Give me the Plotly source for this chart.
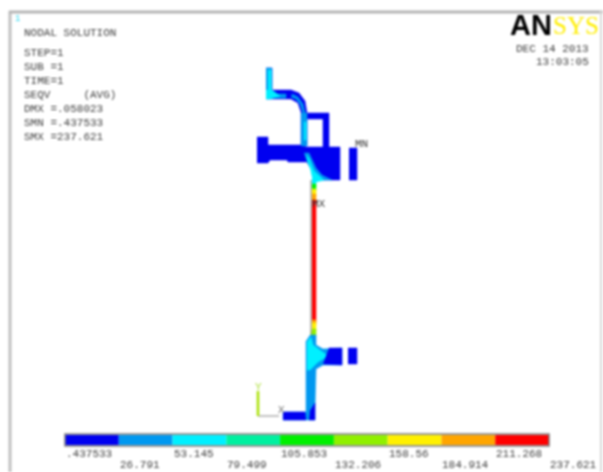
import plotly.graph_objects as go

# Contour band limits and colours
levels = [0.437533, 26.791, 53.145, 79.499, 105.853, 132.206, 158.56, 184.914, 211.268, 237.621]
level_labels = [".437533", "26.791", "53.145", "79.499", "105.853", "132.206", "158.56", "184.914", "211.268", "237.621"]
band_colors = ["#0000f0", "#0098f0", "#00f0ff", "#00f0a0", "#00f000", "#90f000", "#fff000", "#ffa500", "#ff0000"]

# Info block
info_lines = ["NODAL SOLUTION", "STEP=1", "SUB =1", "TIME=1", "SEQV     (AVG)", "DMX =.058023", "SMN =.437533", "SMX =237.621"]
info_rows = [33, 53, 67, 81, 95, 109, 123, 137]
date_lines = ["DEC 14 2013", "13:03:05"]

# Section outline of the model, by contour band (model x, model y)
hook = [(266, 68), (272, 68), (272, 90), (291, 90), (299, 93), (305, 101), (307, 113), (329, 113), (329, 147),
        (323, 147), (323, 119), (307, 119), (307, 146), (301, 146), (301, 112), (298, 103), (291, 99), (266, 99)]
flange = [(257, 137), (268, 137), (268, 145), (305, 145), (305, 147), (340, 147), (340, 180), (316, 180),
          (313, 172), (307, 162), (288, 162), (287, 160), (270, 160), (268, 163), (257, 163)]
side_bar = [(349, 148), (357, 148), (357, 180), (349, 180)]
hook_light = [(301, 113), (307, 113), (307, 146), (301, 146)]
hook_column_core = [(304, 122), (306, 122), (306, 140), (304, 140)]
hook_curve = [(292, 94), (298, 97), (303, 104), (305, 113), (303, 113), (300, 104), (296, 99), (291, 97)]
hook_run = [(272, 94), (286, 94), (286, 98), (272, 98)]
hook_corner = [(266, 90), (272, 90), (280, 96), (270, 99), (266, 99)]
hook_tip = [(266, 68), (272, 68), (272, 90), (266, 90)]
hook_tip_core = [(268, 70), (271, 70), (271, 92), (268, 92)]
neck_light = [(304, 153), (309, 153), (316, 168), (322, 175), (332, 180), (316, 180), (313, 172), (307, 162)]
neck_cyan = [(306, 155), (309, 158), (314, 171), (320, 177), (324, 180), (316, 182), (313, 180), (311, 172)]
web_cyan = [(312, 178), (316, 178), (316, 186), (312, 186)]
web_green = [(312, 184), (316, 184), (316, 191), (312, 191)]
web_yellow = [(312, 189), (316, 189), (316, 196), (312, 196)]
web_orange = [(312, 194), (316, 194), (316, 202), (312, 202)]
web_red = [(312, 200), (316, 200), (316, 322), (312, 322)]
web_low_orange = [(312, 320), (316, 320), (316, 325), (312, 325)]
web_low_yellow = [(312, 323), (316, 323), (316, 331), (312, 331)]
web_low_lime = [(312, 329), (316, 329), (316, 336), (310, 336)]
web_edge = [(311, 180), (311, 334)]
lower_body = [(310, 335), (316, 335), (316, 345), (323, 349), (342, 348), (342, 365), (323, 365), (316, 369),
              (315, 407), (315, 420), (283, 420), (283, 412), (306, 412), (306, 341)]
lower_cyan = [(307, 342), (311, 337), (313, 345), (322, 352), (328, 356), (318, 362), (310, 370), (307, 370)]
lower_arm_blue = [(329, 348), (342, 348), (342, 365), (323, 364)]
foot_blue = [(283, 412), (305, 412), (306, 420), (283, 420)]
foot_corner = [(310, 411), (315, 403), (315, 420), (309, 420)]
lower_block = [(348, 348), (357, 348), (357, 364), (348, 364)]

mesh = [
    (flange, 0), (side_bar, 0), (hook, 0), (hook_light, 1), (hook_column_core, 2), (hook_curve, 1), (hook_run, 1),
    (hook_tip, 1), (hook_tip_core, 2), (hook_corner, 2),
    (neck_light, 1), (neck_cyan, 2), (web_cyan, 2), (web_green, 4), (web_yellow, 6), (web_orange, 7),
    (web_red, 8), (web_low_orange, 7), (web_low_yellow, 6), (web_low_lime, 5),
    (lower_body, 1), (lower_cyan, 2), (lower_arm_blue, 0), (foot_blue, 0), (foot_corner, 0), (lower_block, 0),
]

# Global triad
triad_y_axis = [(258, 416), (258, 391)]
triad_x_axis = [(258, 416), (279, 416)]

W, H = 603, 472
FONT = "Liberation Mono"
TXT = "#404040"

fig = go.Figure()

for pts, band in mesh:
    fig.add_trace(go.Scatter(
        x=[p[0] for p in pts], y=[p[1] for p in pts], mode="lines", fill="toself",
        fillcolor=band_colors[band], line=dict(color=band_colors[band], width=0.5),
        hoverinfo="skip", showlegend=False))

fig.add_trace(go.Scatter(x=[p[0] for p in web_edge], y=[p[1] for p in web_edge], mode="lines",
                         line=dict(color="#8a8a8a", width=1.2), showlegend=False, hoverinfo="skip"))
fig.add_trace(go.Scatter(x=[p[0] for p in triad_x_axis], y=[p[1] for p in triad_x_axis], mode="lines",
                         line=dict(color="#9a9a9a", width=1.2), showlegend=False, hoverinfo="skip"))
fig.add_trace(go.Scatter(x=[p[0] for p in triad_y_axis], y=[p[1] for p in triad_y_axis], mode="lines",
                         line=dict(color="#a8e000", width=2.5), showlegend=False, hoverinfo="skip"))

# Contour legend drawn on its own value axis
fig.add_trace(go.Bar(
    y=[0] * len(band_colors), x=[levels[i + 1] - levels[i] for i in range(len(band_colors))],
    base=levels[:-1], orientation="h", width=1,
    marker=dict(color=band_colors, line=dict(width=0)),
    xaxis="x2", yaxis="y2", hoverinfo="skip", showlegend=False))

fig.update_layout(
    width=W, height=H, margin=dict(l=0, r=0, t=0, b=0),
    paper_bgcolor="white", plot_bgcolor="white", barmode="overlay",
    xaxis=dict(range=[0, W], visible=False, domain=[0, 1], fixedrange=True),
    yaxis=dict(range=[H, 0], visible=False, domain=[0, 1], fixedrange=True),
    xaxis2=dict(range=[levels[0], levels[-1]], visible=False, domain=[65 / W, 549 / W],
                anchor="y2", fixedrange=True),
    yaxis2=dict(range=[-0.5, 0.5], visible=False, domain=[1 - 445 / H, 1 - 435 / H],
                anchor="x2", fixedrange=True),
    shapes=[
        dict(type="rect", xref="paper", yref="paper", x0=65 / W, x1=549 / W, y0=1 - 446 / H, y1=1 - 434 / H,
             line=dict(color="#777777", width=1.5)),
        dict(type="line", x0=10, x1=10, y0=11, y1=H, line=dict(color="#c0c0c0", width=3)),
        dict(type="line", x0=9, x1=603, y0=12, y1=12, line=dict(color="#b5b5b5", width=3)),
        dict(type="line", x0=601, x1=601, y0=11, y1=H, line=dict(color="#d8d8d8", width=2)),
    ],
)


def label(x, y, text, size=11, color=TXT, anchor="left", family=FONT, **kw):
    fig.add_annotation(x=x, y=y, xref="x", yref="y", text=text, showarrow=False, xanchor=anchor, yanchor="middle",
                       font=dict(family=family, size=size, color=color), align=anchor, **kw)


for text, row in zip(info_lines, info_rows):
    label(22, row, text)

label(591, 49, date_lines[0], anchor="right")
label(591, 62, date_lines[1], anchor="right")
label(13, 19, "1", color="#30d8f0", size=9)
label(353, 144, "MN", color="#333333")
label(310, 204, "MX", color="#333333")
label(253, 387, "Y", color="#b0e040", size=11)
label(276, 410, "X", color="#707070", size=11)

# ANSYS logo
label(554, 25, "<b>AN</b>", size=29, color="#000000", anchor="right", family="Liberation Sans")
label(551, 25, "SYS", size=25, color="#ffee00", anchor="left", family="Liberation Serif")

# Colour-bar tick labels, staggered on two rows
for i, (lev, txt) in enumerate(zip(levels, level_labels)):
    fig.add_annotation(x=lev, y=0, xref="x2", yref="y2", text=txt, showarrow=False, xanchor="left", yanchor="middle",
                       yshift=-(454 - 440) if i % 2 == 0 else -(465 - 440), xshift=-1,
                       font=dict(family=FONT, size=11, color=TXT))

fig.write_html("out.html", config=dict(displayModeBar=False),
               post_script="document.body.style.margin='0';document.documentElement.style.overflow='hidden';"
                           "document.querySelector('.plotly-graph-div').style.filter='blur(1px)';")
